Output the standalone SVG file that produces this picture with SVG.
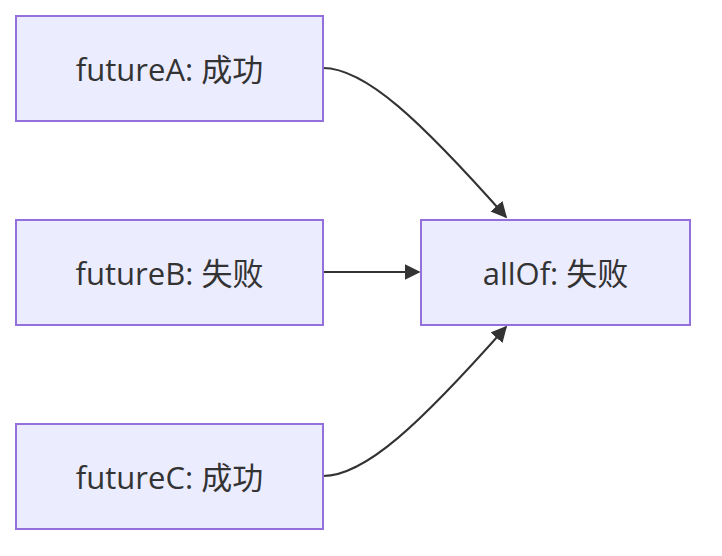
<svg xmlns="http://www.w3.org/2000/svg" width="722" height="556" viewBox="0 0 722 556">
<style>
.node rect{fill:#ECECFF;stroke:#9370DB;stroke-width:2}
.node text{font-family:"Open Sans","Noto Sans CJK SC",sans-serif;font-size:31px;fill:#333;text-anchor:middle;dominant-baseline:central}
.edges path{fill:none;stroke:#333;stroke-width:2}
</style>
<defs>
<marker id="arrow" viewBox="0 0 10 10" refX="9" refY="5" markerWidth="8" markerHeight="8" markerUnits="strokeWidth" orient="auto">
<path d="M0,0 L10,5 L0,10 z" fill="#333"/>
</marker>
</defs>
<g class="edges">
<path d="M323,68 C365,68 420,120 506,217" marker-end="url(#arrow)"/>
<path d="M323,272 L419,272" marker-end="url(#arrow)"/>
<path d="M323,476 C365,476 420,424 506,327" marker-end="url(#arrow)"/>
</g>
<g id="futureA" class="node"><rect x="16" y="16" width="307" height="105"/><text x="169.5" y="68.5">futureA: 成功</text></g>
<g id="futureB" class="node"><rect x="16" y="220" width="307" height="105"/><text x="169.5" y="272.5">futureB: 失败</text></g>
<g id="futureC" class="node"><rect x="16" y="424" width="307" height="105"/><text x="169.5" y="476.5">futureC: 成功</text></g>
<g id="allOf" class="node"><rect x="421" y="220" width="269" height="105"/><text x="555.5" y="272.5">allOf: 失败</text></g>
</svg>
